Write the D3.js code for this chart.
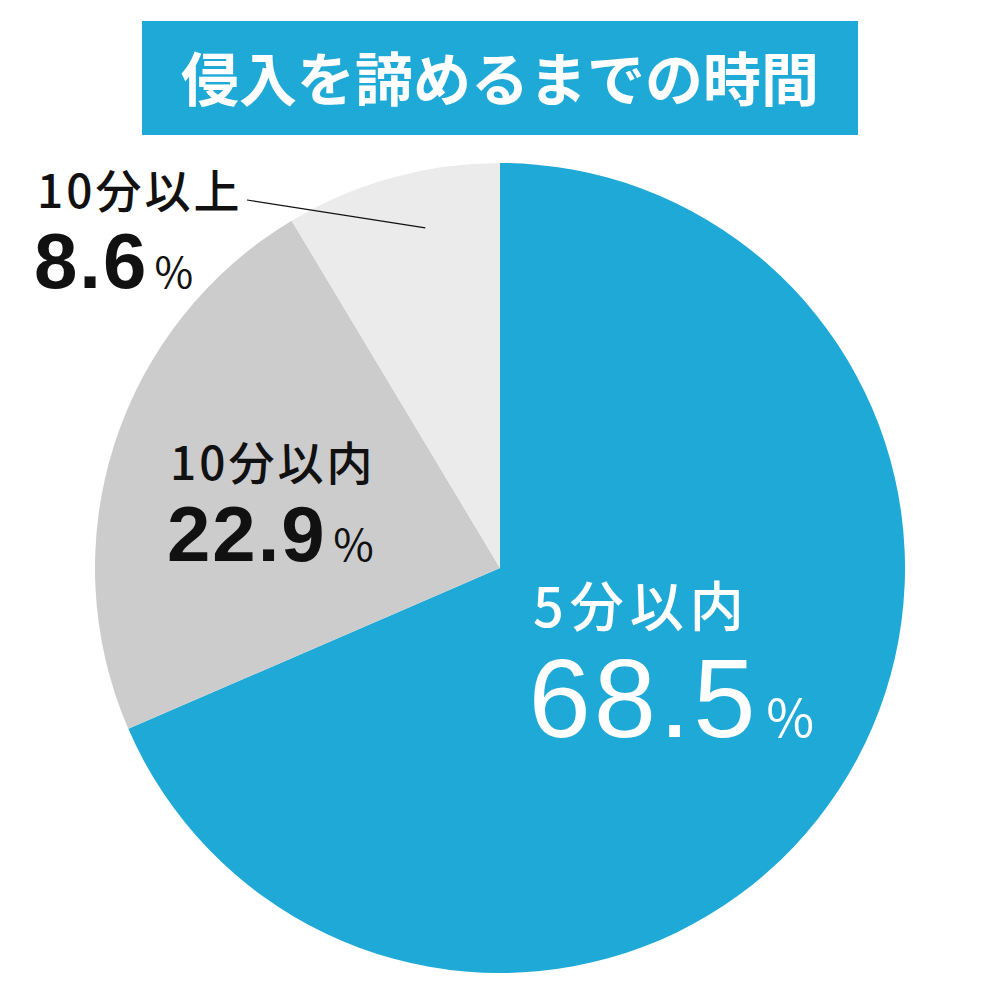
<!DOCTYPE html>
<html><head><meta charset="utf-8">
<script src="https://cdn.jsdelivr.net/npm/d3@7"></script>
<style>body{margin:0;background:#fff}svg{display:block}</style>
</head><body>
<script>
const title = "侵入を諦めるまでの時間";
const categories = ["5分以内", "10分以内", "10分以上"];
const values = [68.5, 22.9, 8.6];
const colors = ["#1fa9d6", "#cccccc", "#ebebeb"];

const W = 1000, H = 1000;
const svg = d3.select("body").append("svg").attr("width", W).attr("height", H);
const cx = 500, cy = 568, R = 405;
const jp = "'Noto Sans CJK JP', sans-serif";
const num = "'Liberation Sans', Arial, sans-serif";

// title
svg.append("rect").attr("x", 142).attr("y", 21).attr("width", 716).attr("height", 114).attr("fill", "#1fa9d6");
svg.append("text").attr("x", 500).attr("y", 101).attr("text-anchor", "middle")
  .attr("font-family", jp).attr("font-weight", 700).attr("font-size", 58).attr("fill", "#fff").text(title);

const pie = d3.pie().sort(null).value(d => d)(values);
const arc = d3.arc().innerRadius(0).outerRadius(R);
const g = svg.append("g").attr("transform", `translate(${cx},${cy})`);
g.selectAll("path").data(pie).enter().append("path").attr("d", arc).attr("fill", (d, i) => colors[i]);

// labels
const labels = [
  {x: 533, y1: 627, y2: 737, fs1: 54, ls1: 6, fs2: 112, ls2: 3, w2: 400, fsp: 52, fill: "#fff"},
  {x: 170, y1: 480, y2: 561, fs1: 46, ls1: 3, fs2: 78, ls2: 2, w2: 700, fsp: 44, fill: "#111"},
  {x: 37, y1: 208, y2: 288, fs1: 46, ls1: 3, fs2: 78, ls2: 2, w2: 700, fsp: 42, fill: "#111"}
];
labels.forEach((L, i) => {
  svg.append("text").attr("x", L.x).attr("y", L.y1).attr("font-family", jp).attr("font-weight", 500)
    .attr("font-size", L.fs1).attr("fill", L.fill).attr("letter-spacing", L.ls1).text(categories[i]);
  const t = svg.append("text").attr("x", L.x - L.fs2 * 0.04).attr("y", L.y2).attr("fill", L.fill).attr("font-family", num);
  t.append("tspan").attr("font-size", L.fs2).attr("font-weight", L.w2).attr("letter-spacing", L.ls2).text(values[i].toFixed(1));
  t.append("tspan").attr("font-size", L.fsp).attr("dx", L.fsp * 0.15).attr("font-family", jp).text("%");
});

// leader line for small slice
const s = pie[2];
const p = d3.pointRadial(s.startAngle + 0.6 * (s.endAngle - s.startAngle), R * 0.86);
svg.append("line").attr("x1", 247).attr("y1", 200)
  .attr("x2", cx + p[0]).attr("y2", cy + p[1])
  .attr("stroke", "#111").attr("stroke-width", 1.2);
</script>
</body></html>
